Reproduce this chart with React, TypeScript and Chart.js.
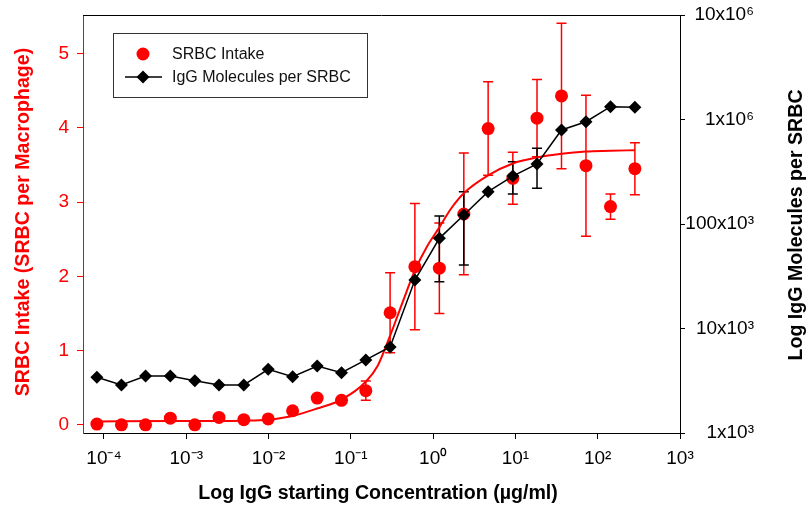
import React, { useEffect, useRef } from 'react';
import { Chart, registerables } from 'chart.js';

Chart.register(...registerables);

// ---- data ----
const concentrations = [8.2e-5, 1.63e-4, 3.2e-4, 6.4e-4, 1.27e-3, 2.5e-3, 5.0e-3, 9.9e-3, 0.0196, 0.039, 0.077, 0.152, 0.30, 0.60, 1.19, 2.36, 4.66, 9.3, 18.3, 36.3, 72, 143, 283];
const srbcIntake = [0.01, 0, 0, 0.09, 0, 0.10, 0.07, 0.08, 0.19, 0.36, 0.33, 0.46, 1.51, 2.13, 2.11, 2.84, 3.99, 3.32, 4.13, 4.43, 3.49, 2.94, 3.45];
const srbcIntakeErr = [0, 0, 0, 0, 0, 0, 0, 0, 0, 0, 0, 0.13, 0.54, 0.85, 0.61, 0.82, 0.63, 0.35, 0.52, 0.98, 0.95, 0.17, 0.35];
const igGMolecules = [3410, 2880, 3510, 3510, 3160, 2880, 2880, 4070, 3460, 4380, 3780, 5000, 6650, 29100, 72900, 121900, 203700, 287700, 375000, 794000, 952800, 1327000, 1309000];
const igGLow = [null, null, null, null, null, null, null, null, null, null, null, null, null, null, 28050, 40550, null, 193600, 219800, null, null, null, null];
const igGHigh = [null, null, null, null, null, null, null, null, null, null, null, null, null, null, 119400, 203700, null, 394500, 529700, null, null, null, null];

// fitted sigmoid curve
const fitConc = [8.2e-5, 6.4e-4, 2.5e-3, 5.0e-3, 9.9e-3, 0.0196, 0.039, 0.077, 0.152, 0.213, 0.30, 0.425, 0.60, 0.84, 1.19, 1.67, 2.36, 4.66, 9.3, 18.3, 36.3, 72, 143, 283];
const fitIntake = [0.045, 0.05, 0.05, 0.055, 0.07, 0.12, 0.22, 0.34, 0.58, 0.8, 1.2, 1.65, 2.08, 2.4, 2.66, 2.92, 3.12, 3.36, 3.52, 3.6, 3.65, 3.68, 3.69, 3.7];

const xTickValues = [1e-4, 1e-3, 1e-2, 1e-1, 1, 10, 100, 1000];
const xTickLabels = ['10⁻⁴', '10⁻³', '10⁻²', '10⁻¹', '10⁰', '10¹', '10²', '10³'];
const yTickValues = [0, 1, 2, 3, 4, 5];
const y2TickValues = [1e3, 1e4, 1e5, 1e6, 1e7];
const y2TickLabels = ['1x10³', '10x10³', '100x10³', '1x10⁶', '10x10⁶'];

const seriesNames = ['SRBC Intake', 'IgG Molecules per SRBC'];
const xTitle = 'Log IgG starting Concentration (µg/ml)';
const yTitle = 'SRBC Intake (SRBC per Macrophage)';
const y2Title = 'Log IgG Molecules per SRBC';

const FONT = '"Liberation Sans", Arial, sans-serif';
const RED = '#ff0000';

const customPlugin = {
  id: 'customDraw',
  beforeDatasetsDraw(chart: any) {
    const ctx = chart.ctx;
    const xs = chart.scales.x;
    const ys = chart.scales.y;
    const y2 = chart.scales.y2;
    const cap = 5;
    ctx.save();
    ctx.lineWidth = 1.5;
    ctx.strokeStyle = RED;
    srbcIntake.forEach((v, i) => {
      const e = srbcIntakeErr[i];
      if (!e) return;
      const x = xs.getPixelForValue(concentrations[i]);
      const t = ys.getPixelForValue(v + e);
      const b = ys.getPixelForValue(v - e);
      ctx.beginPath();
      ctx.moveTo(x, t); ctx.lineTo(x, b);
      ctx.moveTo(x - cap, t); ctx.lineTo(x + cap, t);
      ctx.moveTo(x - cap, b); ctx.lineTo(x + cap, b);
      ctx.stroke();
    });
    ctx.strokeStyle = '#000';
    igGMolecules.forEach((v, i) => {
      const lo = igGLow[i];
      const hi = igGHigh[i];
      if (lo == null || hi == null) return;
      const x = xs.getPixelForValue(concentrations[i]);
      const t = y2.getPixelForValue(hi);
      const b = y2.getPixelForValue(lo);
      ctx.beginPath();
      ctx.moveTo(x, t); ctx.lineTo(x, b);
      ctx.moveTo(x - cap, t); ctx.lineTo(x + cap, t);
      ctx.moveTo(x - cap, b); ctx.lineTo(x + cap, b);
      ctx.stroke();
    });
    ctx.restore();
  },
  afterDraw(chart: any) {
    const ctx = chart.ctx;
    const a = chart.chartArea;
    ctx.save();
    // top frame line
    ctx.strokeStyle = '#000';
    ctx.lineWidth = 1;
    ctx.beginPath();
    ctx.moveTo(a.left, a.top + 0.5);
    ctx.lineTo(a.right, a.top + 0.5);
    ctx.stroke();

    // legend
    ctx.strokeStyle = '#333';
    ctx.lineWidth = 1;
    ctx.strokeRect(113.5, 33.5, 254, 64);
    ctx.fillStyle = RED;
    ctx.beginPath();
    ctx.arc(143, 54, 6.5, 0, Math.PI * 2);
    ctx.fill();
    ctx.strokeStyle = '#000';
    ctx.lineWidth = 1.5;
    ctx.beginPath();
    ctx.moveTo(125, 77); ctx.lineTo(162, 77);
    ctx.stroke();
    ctx.fillStyle = '#000';
    ctx.beginPath();
    ctx.moveTo(143, 70.5); ctx.lineTo(149.5, 77); ctx.lineTo(143, 83.5); ctx.lineTo(136.5, 77);
    ctx.closePath();
    ctx.fill();
    ctx.font = `16px ${FONT}`;
    ctx.textAlign = 'left';
    ctx.textBaseline = 'middle';
    ctx.fillStyle = '#111';
    ctx.fillText(seriesNames[0], 172, 55);
    ctx.fillText(seriesNames[1], 172, 78);

    // axis titles
    ctx.font = `bold 19.6px ${FONT}`;
    ctx.textAlign = 'center';
    ctx.textBaseline = 'middle';
    ctx.fillStyle = '#000';
    ctx.fillText(xTitle, 378, 494);

    ctx.save();
    ctx.translate(24, 222);
    ctx.rotate(-Math.PI / 2);
    ctx.fillStyle = RED;
    ctx.fillText(yTitle, 0, 0);
    ctx.restore();

    ctx.save();
    ctx.translate(797, 225);
    ctx.rotate(-Math.PI / 2);
    ctx.fillStyle = '#000';
    ctx.fillText(y2Title, 0, 0);
    ctx.restore();

    ctx.restore();
  },
};

const noPad = (s: any) => {
  s.paddingTop = 0;
  s.paddingBottom = 0;
  s.paddingLeft = 0;
  s.paddingRight = 0;
};

export default function App() {
  const ref = useRef<HTMLCanvasElement | null>(null);

  useEffect(() => {
    if (!ref.current) return;
    const chart = new Chart(ref.current, {
      type: 'line',
      data: {
        datasets: [
          {
            label: 'fit',
            data: fitConc.map((x, i) => ({ x, y: fitIntake[i] })),
            borderColor: RED,
            borderWidth: 2,
            pointRadius: 0,
            cubicInterpolationMode: 'monotone',
            yAxisID: 'y',
            order: 3,
          } as any,
          {
            label: seriesNames[0],
            data: concentrations.map((x, i) => ({ x, y: srbcIntake[i] })),
            showLine: false,
            pointStyle: 'circle',
            pointRadius: 6.5,
            pointBackgroundColor: RED,
            pointBorderWidth: 0,
            borderColor: RED,
            yAxisID: 'y',
            order: 2,
          } as any,
          {
            label: seriesNames[1],
            data: concentrations.map((x, i) => ({ x, y: igGMolecules[i] })),
            borderColor: '#000',
            borderWidth: 1.5,
            pointStyle: 'rectRot',
            pointRadius: 6.5,
            pointBackgroundColor: '#000',
            pointBorderWidth: 0,
            yAxisID: 'y2',
            order: 1,
          } as any,
        ],
      },
      options: {
        responsive: false,
        animation: false,
        devicePixelRatio: 1,
        layout: { padding: { top: 15, left: 0, right: 55, bottom: 0 } },
        plugins: { legend: { display: false }, tooltip: { enabled: false } },
        scales: {
          x: {
            type: 'logarithmic',
            position: 'bottom',
            min: 5.56e-5,
            max: 1000,
            afterBuildTicks: (s: any) => { s.ticks = xTickValues.map((value) => ({ value })); },
            afterFit: (s: any) => { s.height = 78; noPad(s); },
            ticks: {
              autoSkip: false,
              maxRotation: 0,
              padding: 8,
              color: '#000',
              font: { family: FONT, size: 19 },
              callback: (_v: any, i: number) => xTickLabels[i],
            },
            grid: { drawOnChartArea: false, drawTicks: true, tickLength: 6, color: '#000' },
            border: { color: '#000', width: 1 },
          },
          y: {
            type: 'linear',
            position: 'left',
            min: -0.11,
            max: 5.52,
            afterBuildTicks: (s: any) => { s.ticks = yTickValues.map((value) => ({ value })); },
            afterFit: (s: any) => { s.width = 83; noPad(s); },
            ticks: {
              padding: 8,
              color: RED,
              font: { family: FONT, size: 19 },
              callback: (v: any) => String(v),
            },
            grid: { drawOnChartArea: false, drawTicks: true, tickLength: 6, color: RED },
            border: { color: RED, width: 1 },
          },
          y2: {
            type: 'logarithmic',
            position: 'right',
            min: 1e3,
            max: 1e7,
            afterBuildTicks: (s: any) => { s.ticks = y2TickValues.map((value) => ({ value })); },
            afterFit: (s: any) => { s.width = 74; noPad(s); },
            ticks: {
              crossAlign: 'far',
              padding: 2,
              color: '#000',
              font: { family: FONT, size: 19 },
              callback: (_v: any, i: number) => y2TickLabels[i],
            },
            grid: { drawOnChartArea: false, drawTicks: true, tickLength: 5, color: '#000' },
            border: { color: '#000', width: 1 },
          },
        },
      } as any,
      plugins: [customPlugin],
    });
    return () => chart.destroy();
  }, []);

  return (
    <div style={{ position: 'absolute', left: 0, top: 0, width: 809, height: 511, background: '#fff' }}>
      <canvas ref={ref} width={809} height={511} style={{ display: 'block' }} />
    </div>
  );
}
